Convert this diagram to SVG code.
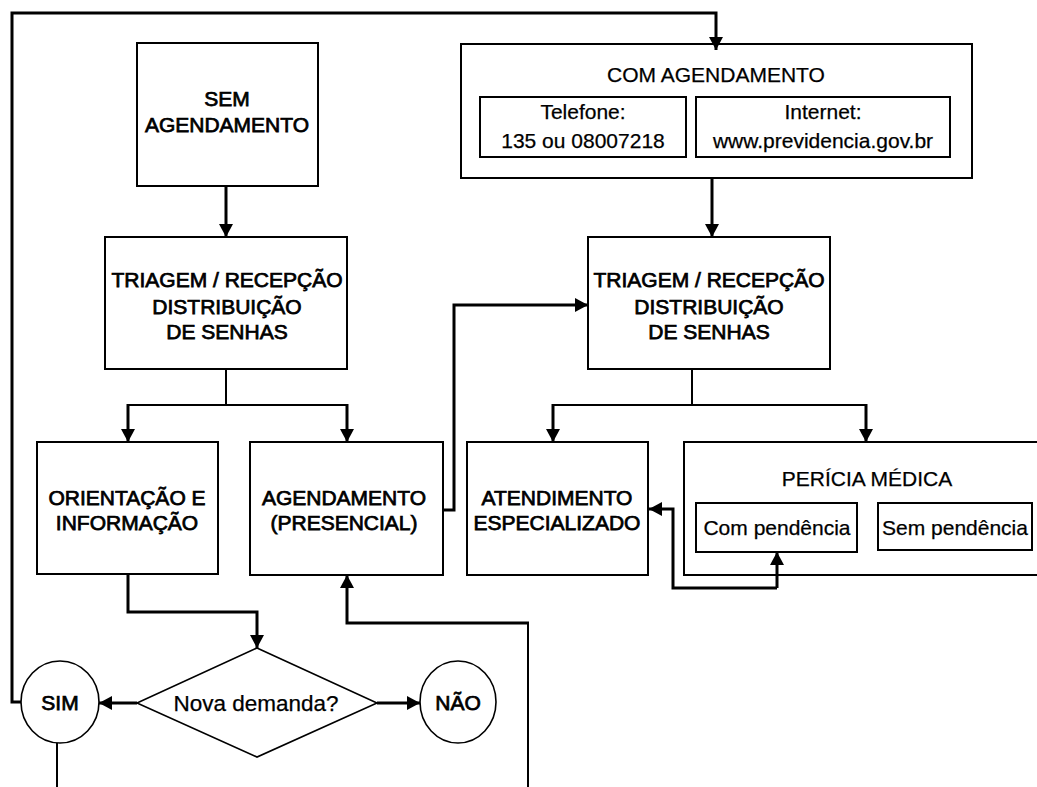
<svg xmlns="http://www.w3.org/2000/svg" width="1037" height="787" viewBox="0 0 1037 787">
  <style>
    .box { fill: #ffffff; stroke: #000000; stroke-width: 2; }
    .shape { fill: #ffffff; stroke: #000000; stroke-width: 1.6; }
    .t { font-family: "Liberation Sans", Arial, sans-serif; font-size: 21px; fill: #000000; stroke: #000000; stroke-width: 0.25; text-anchor: middle; }
    .b { stroke-width: 0.75; }
    .thick { fill: none; stroke: #000000; stroke-width: 3; }
    .thin { fill: none; stroke: #000000; stroke-width: 2; }
  </style>
  <defs>
    <marker id="arrow" markerUnits="userSpaceOnUse" markerWidth="14" markerHeight="14" refX="13" refY="7" orient="auto">
      <path d="M0,0 L13,7 L0,14 Z" fill="#000000"/>
    </marker>
  </defs>
  <rect x="0" y="0" width="1037" height="787" fill="#ffffff"/>

  <g id="sem-agendamento">
    <rect class="box" x="137" y="43" width="181" height="143"/>
    <text class="t b" x="227" y="106">SEM</text>
    <text class="t b" x="227" y="132">AGENDAMENTO</text>
  </g>

  <g id="com-agendamento">
    <rect class="box" x="461" y="44" width="511" height="134"/>
    <text class="t" x="716" y="82">COM AGENDAMENTO</text>
    <rect class="box" x="480" y="97" width="206" height="60"/>
    <text class="t" x="583" y="119">Telefone:</text>
    <text class="t" x="583" y="148">135 ou 08007218</text>
    <rect class="box" x="696" y="97" width="254" height="60"/>
    <text class="t" x="823" y="119">Internet:</text>
    <text class="t" x="823" y="148">www.previdencia.gov.br</text>
  </g>

  <g id="triagem-esquerda">
    <rect class="box" x="105" y="237" width="242" height="132"/>
    <text class="t b" x="227" y="287">TRIAGEM / RECEPÇÃO</text>
    <text class="t b" x="227" y="314">DISTRIBUIÇÃO</text>
    <text class="t b" x="227" y="339">DE SENHAS</text>
  </g>

  <g id="triagem-direita">
    <rect class="box" x="588" y="237" width="242" height="132"/>
    <text class="t b" x="709" y="287">TRIAGEM / RECEPÇÃO</text>
    <text class="t b" x="709" y="314">DISTRIBUIÇÃO</text>
    <text class="t b" x="709" y="339">DE SENHAS</text>
  </g>

  <g id="orientacao">
    <rect class="box" x="37" y="442" width="181" height="132"/>
    <text class="t b" x="127" y="505">ORIENTAÇÃO E</text>
    <text class="t b" x="127" y="530">INFORMAÇÃO</text>
  </g>

  <g id="agendamento-presencial">
    <rect class="box" x="250" y="442" width="193" height="133"/>
    <text class="t b" x="344" y="505">AGENDAMENTO</text>
    <text class="t b" x="344" y="530">(PRESENCIAL)</text>
  </g>

  <g id="atendimento">
    <rect class="box" x="467" y="442" width="181" height="133"/>
    <text class="t b" x="557" y="505">ATENDIMENTO</text>
    <text class="t b" x="557" y="530">ESPECIALIZADO</text>
  </g>

  <g id="pericia">
    <rect class="box" x="684" y="442" width="400" height="133"/>
    <text class="t" x="867" y="486">PERÍCIA MÉDICA</text>
    <rect class="box" x="696" y="503" width="161" height="49"/>
    <text class="t" x="777" y="535">Com pendência</text>
    <rect class="box" x="878" y="503" width="154" height="47"/>
    <text class="t" x="955" y="535">Sem pendência</text>
  </g>

  <g id="decisao">
    <polygon class="shape" points="257,648 377,703 257,757 137,703"/>
    <text class="t" x="256" y="711" style="font-size:22.5px">Nova demanda?</text>
  </g>

  <g id="sim">
    <ellipse class="shape" cx="60" cy="702" rx="39" ry="41"/>
    <text class="t b" x="60" y="710">SIM</text>
  </g>

  <g id="nao">
    <ellipse class="shape" cx="458" cy="702" rx="38" ry="41"/>
    <text class="t b" x="458" y="710">NÃO</text>
  </g>

  <g id="connectors">
    <!-- return loop from SIM back to scheduling -->
    <path class="thick" d="M21,702 H12 V13 H716 V50" marker-end="url(#arrow)"/>
    <path class="thin" d="M57,743 V787"/>
    <!-- entry arrows -->
    <path class="thick" d="M226,186 V237" marker-end="url(#arrow)"/>
    <path class="thick" d="M712,178 V237" marker-end="url(#arrow)"/>
    <!-- left triage split -->
    <path class="thin" d="M226,369 V405 M128,405 H347"/>
    <path class="thick" d="M128,404 V442" marker-end="url(#arrow)"/>
    <path class="thick" d="M347,404 V442" marker-end="url(#arrow)"/>
    <!-- right triage split -->
    <path class="thin" d="M692,369 V405 M553,405 H866"/>
    <path class="thick" d="M553,404 V442" marker-end="url(#arrow)"/>
    <path class="thick" d="M866,404 V442" marker-end="url(#arrow)"/>
    <!-- presencial scheduling to right triage -->
    <path class="thick" d="M443,510 H454 V305 H588" marker-end="url(#arrow)"/>
    <!-- pending exam to specialised service -->
    <path class="thick" d="M777,588 V552" marker-end="url(#arrow)"/>
    <path class="thick" d="M777,588 H673 V509 H649" marker-end="url(#arrow)"/>
    <!-- orientation to decision -->
    <path class="thick" d="M128,574 V612 H257 V648" marker-end="url(#arrow)"/>
    <!-- decision outcomes -->
    <path class="thick" d="M137,703 H99" marker-end="url(#arrow)"/>
    <path class="thick" d="M377,703 H420" marker-end="url(#arrow)"/>
    <!-- incoming return to presencial scheduling -->
    <path class="thin" d="M528,787 V623"/>
    <path class="thick" d="M529,623 H347 V575" marker-end="url(#arrow)"/>
  </g>
</svg>
